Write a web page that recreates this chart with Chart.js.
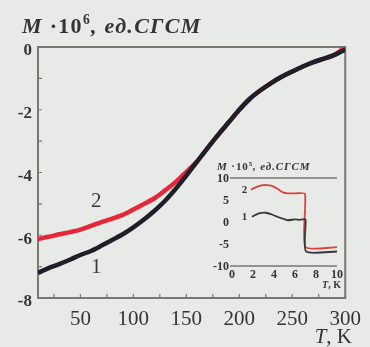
<!DOCTYPE html>
<html>
<head>
<meta charset="utf-8">
<script src="https://cdn.jsdelivr.net/npm/chart.js@4.4.1/dist/chart.umd.min.js"></script>
<style>
  html, body { margin: 0; padding: 0; background: #e7eae7; }
  #wrap { position: relative; width: 370px; height: 347px; overflow: hidden; }
  #main { position: absolute; left: 0; top: 0; }
  #inset { position: absolute; left: 200px; top: 150px; }
</style>
</head>
<body>
<div id="wrap">
  <canvas id="main" width="370" height="347"></canvas>
  <canvas id="inset" width="150" height="147"></canvas>
</div>
<script>
"use strict";
const SERIF = '"Liberation Serif", "Times New Roman", serif';
const INK = "#363432";
const AXIS = "#7a7670";

// --- main curves: magnetisation vs temperature ----------------------------- #
const T_MAIN = [10, 20, 30, 40, 50, 60, 70, 80, 90, 100, 110, 120, 130, 140, 150,
  160, 170, 180, 190, 200, 210, 220, 230, 240, 250, 260, 270, 280, 290, 300];
const M_CURVE1 = [-7.2, -7.05, -6.92, -6.78, -6.63, -6.5, -6.33, -6.15, -5.97, -5.75,
  -5.5, -5.22, -4.9, -4.52, -4.1, -3.66, -3.22, -2.8, -2.4, -2.0,
  -1.65, -1.38, -1.15, -0.95, -0.78, -0.62, -0.48, -0.37, -0.25, -0.08];
const M_CURVE2 = [-6.12, -6.05, -5.97, -5.9, -5.82, -5.7, -5.58, -5.47, -5.35, -5.18,
  -5.0, -4.82, -4.57, -4.3, -3.98, -3.65, -3.22, -2.8, -2.4, -2.0,
  -1.65, -1.38, -1.15, -0.95, -0.78, -0.62, -0.48, -0.37, -0.25, 0.0];
const X_TICKS = [50, 100, 150, 200, 250, 300];
const X_MINOR = [25, 75, 125, 175, 225, 275];
const Y_TICKS = [-8, -6, -4, -2, 0];
const Y_MINOR = [-7, -5, -3, -1];
const CURVE_TAGS = [["1", 65, -7.02], ["2", 65, -4.93]];

// --- inset: low-temperature steps ------------------------------------------ #
const T_IN1 = [1.9, 2.5, 3.2, 3.8, 4.3, 4.8, 5.3, 6.0, 6.5, 7.0, 7.05, 10];
const M_IN1 = [1.2, 1.9, 2.1, 1.7, 1.2, 0.8, 0.4, 0.6, 0.5, 0.6, -6.7, -6.7];
const T_IN2 = [1.8, 2.2, 2.8, 3.3, 3.8, 4.3, 4.8, 5.3, 6.0, 6.95, 7.0, 10];
const M_IN2 = [7.3, 7.8, 8.3, 8.4, 8.2, 7.6, 6.8, 6.5, 6.5, 6.4, -5.7, -5.7];
const X_TICKS_IN = [0, 2, 4, 6, 8, 10];
const Y_TICKS_IN = [-10, -5, 0, 5, 10];
const INSET_TAGS = [["1", 1.45, 1.0], ["2", 1.45, 7.3]];

const pts = (xs, ys) => xs.map((x, i) => ({ x, y: ys[i] }));
const fixTicks = list => s => { s.ticks = list.map(v => ({ value: v })); };

// draws "M·10ⁿ, ед.СГСМ" starting at x, on baseline y
function unitLabel(ctx, x, y, size, exp, spacing) {
  const parts = [
    ["italic bold", "M", 0, size],
    ["bold", " \u00b710", 0, size],
    ["bold", exp, -size * 0.4, size * 0.62],
    ["italic bold", ", ед.СГСМ", 0, size],
  ];
  ctx.textAlign = "left";
  ctx.textBaseline = "alphabetic";
  ctx.letterSpacing = spacing + "px";
  parts.forEach(([st, txt, dy, sz]) => {
    ctx.font = `${st} ${sz}px ${SERIF}`;
    ctx.fillText(txt, x, y + dy);
    x += ctx.measureText(txt).width;
  });
  ctx.letterSpacing = "0px";
}

const mainDecor = {
  id: "mainDecor",
  beforeDatasetsDraw(chart) {
    const { ctx, chartArea: a, scales: { x, y } } = chart;
    ctx.save();
    ctx.strokeStyle = AXIS;
    ctx.lineWidth = 2;
    ctx.strokeRect(a.left, a.top, a.right - a.left, a.bottom - a.top);
    ctx.lineWidth = 1.2;
    ctx.beginPath();
    X_MINOR.concat(X_TICKS).forEach(v => {
      const px = x.getPixelForValue(v);
      ctx.moveTo(px, a.bottom); ctx.lineTo(px, a.bottom - 4);
    });
    Y_MINOR.concat(Y_TICKS).forEach(v => {
      const py = y.getPixelForValue(v);
      ctx.moveTo(a.left, py); ctx.lineTo(a.left + 4, py);
    });
    ctx.stroke();
    ctx.restore();
  },
  afterDraw(chart) {
    const { ctx, scales: { x, y } } = chart;
    ctx.save();
    ctx.fillStyle = INK;
    unitLabel(ctx, 22, 33, 22, "6", 1.3);
    // axis name, bottom right
    ctx.textBaseline = "alphabetic";
    ctx.textAlign = "right";
    ctx.font = `21px ${SERIF}`;
    const rest = ", K";
    ctx.fillText(rest, 352, 343);
    const w = ctx.measureText(rest).width;
    ctx.font = `italic 21px ${SERIF}`;
    ctx.fillText("T", 352 - w, 343);
    // curve numbers
    ctx.textAlign = "center";
    ctx.textBaseline = "middle";
    ctx.font = `21px ${SERIF}`;
    ctx.fillStyle = "#3c3a38";
    CURVE_TAGS.forEach(([t, tx, ty]) => ctx.fillText(t, x.getPixelForValue(tx), y.getPixelForValue(ty)));
    ctx.restore();
  }
};

new Chart(document.getElementById("main"), {
  type: "line",
  data: {
    datasets: [
      { data: pts(T_MAIN, M_CURVE1), borderColor: "#1d1f2b", borderWidth: 4.5, pointRadius: 0, tension: 0.3 },
      { data: pts(T_MAIN, M_CURVE2), borderColor: "#e4283a", borderWidth: 4.5, pointRadius: 0, tension: 0.3 },
    ]
  },
  options: {
    responsive: false,
    animation: false,
    layout: { padding: { top: 47, right: 18, left: 0, bottom: 0 } },
    plugins: { legend: { display: false }, tooltip: { enabled: false } },
    scales: {
      x: {
        type: "linear", min: 10, max: 300,
        afterBuildTicks: fixTicks(X_TICKS),
        afterFit: s => { s.height = 49; },
        grid: { display: false, drawTicks: false },
        border: { display: false },
        ticks: { font: { family: SERIF, size: 21 }, color: INK, padding: 9, maxRotation: 0, autoSkip: false }
      },
      y: {
        min: -8, max: 0,
        afterBuildTicks: fixTicks(Y_TICKS),
        afterFit: s => { s.width = 38; },
        grid: { display: false, drawTicks: false },
        border: { display: false },
        ticks: { font: { family: SERIF, size: 17, weight: "bold" }, color: INK, padding: 6, labelOffset: 4 }
      }
    }
  },
  plugins: [mainDecor]
});

const insetDecor = {
  id: "insetDecor",
  beforeDatasetsDraw(chart) {
    const { ctx, chartArea: a, scales: { y } } = chart;
    ctx.save();
    ctx.strokeStyle = AXIS;
    ctx.lineWidth = 1.5;
    ctx.beginPath();
    [10, -10].forEach(v => {
      const py = y.getPixelForValue(v);
      ctx.moveTo(a.left - 2, py); ctx.lineTo(a.right, py);
    });
    ctx.stroke();
    ctx.restore();
  },
  afterDraw(chart) {
    const { ctx, scales: { x, y } } = chart;
    ctx.save();
    ctx.fillStyle = INK;
    unitLabel(ctx, 17, 20, 11, "5", 0.9);
    ctx.textAlign = "right";
    ctx.font = `bold 10px ${SERIF}`;
    const rest = ", K";
    ctx.fillText(rest, 141, 138);
    const w = ctx.measureText(rest).width;
    ctx.font = `italic bold 10px ${SERIF}`;
    ctx.fillText("T", 141 - w, 138);
    ctx.textBaseline = "middle";
    ctx.font = `bold 11px ${SERIF}`;
    INSET_TAGS.forEach(([t, tx, ty]) => ctx.fillText(t, x.getPixelForValue(tx), y.getPixelForValue(ty)));
    ctx.restore();
  }
};

new Chart(document.getElementById("inset"), {
  type: "line",
  data: {
    datasets: [
      { data: pts(T_IN1, M_IN1), borderColor: "#3a3838", borderWidth: 1.8, pointRadius: 0, tension: 0.2 },
      { data: pts(T_IN2, M_IN2), borderColor: "#d9443e", borderWidth: 1.8, pointRadius: 0, tension: 0.2 },
    ]
  },
  options: {
    responsive: false,
    animation: false,
    layout: { padding: { top: 28, right: 13, left: 0, bottom: 0 } },
    plugins: { legend: { display: false }, tooltip: { enabled: false } },
    scales: {
      x: {
        type: "linear", min: 0, max: 10,
        afterBuildTicks: fixTicks(X_TICKS_IN),
        afterFit: s => { s.height = 31; },
        grid: { display: false, drawTicks: false },
        border: { display: false },
        ticks: { font: { family: SERIF, size: 12, weight: "bold" }, color: INK, padding: 2, maxRotation: 0, autoSkip: false }
      },
      y: {
        min: -10, max: 10,
        afterBuildTicks: fixTicks(Y_TICKS_IN),
        afterFit: s => { s.width = 32; },
        grid: { display: false, drawTicks: false },
        border: { display: false },
        ticks: { font: { family: SERIF, size: 12, weight: "bold" }, color: INK, padding: 3, labelOffset: 1 }
      }
    }
  },
  plugins: [insetDecor]
});
</script>
</body>
</html>
